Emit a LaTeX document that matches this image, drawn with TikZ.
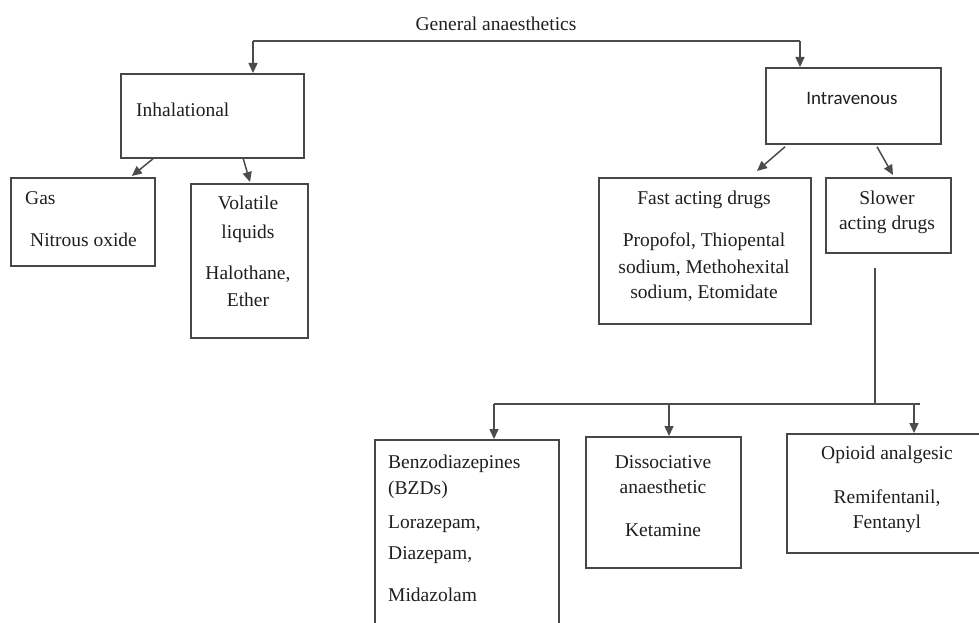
\documentclass[tikz,border=0pt]{standalone}
\usepackage{fontspec}
\setmainfont{Liberation Serif}
\newfontfamily\calfont{Carlito}
\usetikzlibrary{arrows.meta,calc}
\begin{document}
\begin{tikzpicture}[x=1pt,y=-1pt,
  box/.style={draw=black!72,line width=1.8pt,rectangle,inner sep=0pt,anchor=north west},
  txt/.style={inner sep=0pt,text=black!88,font=\fontsize{19.5}{24}\selectfont,anchor=mid,yshift=-4.5pt},
  txtl/.style={txt,anchor=mid west},
  conn/.style={draw=black!70,line width=1.5pt},
  arr/.style={conn,-{Triangle[length=10pt,width=9pt]}}]
\useasboundingbox (0,0) rectangle (979,623);
\clip (0,0) rectangle (979,623);
\fill[white] (0,0) rectangle (979,623);

% title
\node[txt] (title) at (496,24) {General anaesthetics};

% boxes
\node[box,minimum width=183pt,minimum height=84pt] (inh) at (120,73) {};
\node[box,minimum width=144pt,minimum height=88pt] (gas) at (10,177) {};
\node[box,minimum width=117pt,minimum height=154pt] (vol) at (190,183) {};
\node[box,minimum width=175pt,minimum height=76pt] (iv) at (765,67) {};
\node[box,minimum width=212pt,minimum height=146pt] (fast) at (598,177) {};
\node[box,minimum width=125pt,minimum height=75pt] (slow) at (825,177) {};
\node[box,minimum width=184pt,minimum height=200pt] (bzd) at (374,439) {};
\node[box,minimum width=155pt,minimum height=131pt] (dis) at (585,436) {};
\node[box,minimum width=210pt,minimum height=119pt] (opi) at (786,433) {};

% texts
\node[txtl] (tinh) at (136,110) {Inhalational};
\node[txtl] (tgas1) at (25,198) {Gas};
\node[txtl] (tgas2) at (30,240) {Nitrous oxide};
\node[txt] (tvol1) at (248,203) {Volatile};
\node[txt] (tvol2) at (248,232) {liquids};
\node[txt] (tvol3) at (248,273) {Halothane,};
\node[txt] (tvol4) at (248,300) {Ether};
\node[txt,font=\calfont\fontsize{19}{23}\selectfont] (tiv) at (852,98) {Intravenous};
\node[txt] (tfast1) at (704,198) {Fast acting drugs};
\node[txt] (tfast2) at (704,240) {Propofol, Thiopental};
\node[txt] (tfast3) at (704,267) {sodium, Methohexital};
\node[txt] (tfast4) at (704,292) {sodium, Etomidate};
\node[txt] (tslow1) at (887,198) {Slower};
\node[txt] (tslow2) at (887,223) {acting drugs};
\node[txtl] (tbzd1) at (388,462) {Benzodiazepines};
\node[txtl] (tbzd2) at (388,488) {(BZDs)};
\node[txtl] (tbzd3) at (388,522) {Lorazepam,};
\node[txtl] (tbzd4) at (388,553) {Diazepam,};
\node[txtl] (tbzd5) at (388,595) {Midazolam};
\node[txt] (tdis1) at (663,462) {Dissociative};
\node[txt] (tdis2) at (663,487) {anaesthetic};
\node[txt] (tdis3) at (663,530) {Ketamine};
\node[txt] (topi1) at (887,453) {Opioid analgesic};
\node[txt] (topi2) at (887,497) {Remifentanil,};
\node[txt] (topi3) at (887,522) {Fentanyl};

% connector points
\coordinate (tl) at (253,41);
\coordinate (tr) at (800,41);
\coordinate (sv) at (875,268);
\coordinate (bl) at (494,404);
\coordinate (bm) at (669,404);
\coordinate (bo) at (914,404);
\coordinate (br) at (920,404);

% connectors
\draw[conn] (tl) -- (tr);
\draw[arr] (tl) -- (tl |- inh.north);
\draw[arr] (tr) -- (tr |- iv.north);
\draw[arr] ($(inh.south west)+(33,0)$) -- ($(gas.north east)+(-24,-1)$);
\draw[arr] ($(inh.south west)+(123,-1)$) -- ($(vol.north west)+(60,-1)$);
\draw[arr] ($(iv.south west)+(20,2)$) -- ($(fast.north west)+(159,-6)$);
\draw[arr] ($(iv.south west)+(112,2)$) -- ($(slow.north west)+(68,-2)$);
\draw[conn] (sv) -- (sv |- bl);
\draw[conn] (bl) -- (br);
\draw[arr] (bl) -- (bl |- bzd.north);
\draw[arr] (bm) -- (bm |- dis.north);
\draw[arr] (bo) -- (bo |- opi.north);
\end{tikzpicture}
\end{document}
